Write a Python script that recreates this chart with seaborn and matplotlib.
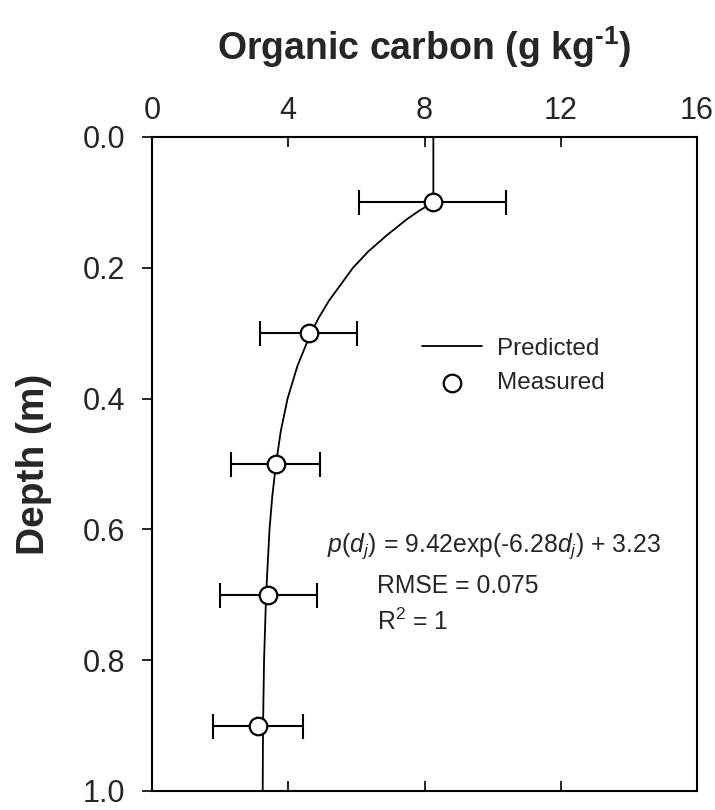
import matplotlib
matplotlib.use("Agg")
import matplotlib.pyplot as plt
import seaborn as sns
import numpy as np
import pandas as pd

# ---- data ----
pred_depth = [0.0, 0.1, 0.1125, 0.125, 0.15, 0.175, 0.2, 0.225, 0.25, 0.275, 0.3, 0.35,
              0.4, 0.45, 0.5, 0.55, 0.6, 0.65, 0.7, 0.75, 0.8, 0.9, 1.0]
pred_oc = [8.26, 8.26, 7.85, 7.50, 6.90, 6.35, 5.90, 5.55, 5.20, 4.91, 4.66, 4.27,
           3.98, 3.78, 3.64, 3.53, 3.45, 3.40, 3.35, 3.32, 3.29, 3.26, 3.25]

meas_depth = [0.1, 0.3, 0.5, 0.7, 0.9]
meas_oc = [8.24, 4.60, 3.63, 3.42, 3.11]
meas_err = [2.15, 1.42, 1.31, 1.42, 1.33]

x_ticks = [0, 4, 8, 12, 16]
y_ticks = [0.0, 0.2, 0.4, 0.6, 0.8, 1.0]
y_tick_labels = ["0.0", "0.2", "0.4", "0.6", "0.8", "1.0"]

sns.set_style("ticks")
plt.rcParams["font.family"] = ["Liberation Sans", "DejaVu Sans"]
plt.rcParams["mathtext.fontset"] = "custom"
plt.rcParams["mathtext.rm"] = "Liberation Sans"
plt.rcParams["mathtext.it"] = "Liberation Sans:italic"
plt.rcParams["mathtext.bf"] = "Liberation Sans:bold"

W, H = 715, 810
fig = plt.figure(figsize=(W / 100, H / 100), dpi=100)
L, R, T, B = 152, 697, 137, 791
ax = fig.add_axes([L / W, 1 - B / H, (R - L) / W, (B - T) / H])

pred_df = pd.DataFrame({"oc": pred_oc, "depth": pred_depth})
meas_df = pd.DataFrame({"oc": meas_oc, "depth": meas_depth, "err": meas_err})

sns.lineplot(data=pred_df, x="oc", y="depth", sort=False, estimator=None,
             color="black", linewidth=1.3, ax=ax, label="Predicted", zorder=2)
ax.errorbar(meas_df["oc"], meas_df["depth"], xerr=meas_df["err"], fmt="none",
            ecolor="black", elinewidth=1.5, capsize=9, capthick=1.5, zorder=3)
sns.scatterplot(data=meas_df, x="oc", y="depth", marker="o", s=160,
                facecolor="white", edgecolor="black", linewidth=1.6,
                ax=ax, label="Measured", zorder=4)

ax.set_xlim(0, 16)
ax.set_ylim(1.0, 0.0)
ax.set_xticks(x_ticks)
ax.set_xticklabels([str(v) for v in x_ticks])
ax.set_yticks(y_ticks)
ax.set_yticklabels(y_tick_labels)
ax.set_xlabel("")
ax.set_ylabel("")

ax.tick_params(axis="x", direction="in", top=True, bottom=True,
               labeltop=True, labelbottom=False, length=7, width=1.4,
               labelsize=22, pad=8)
ax.tick_params(axis="y", direction="out", left=True, right=False,
               length=7, width=1.4, labelsize=22, pad=12)
for sp in ax.spines.values():
    sp.set_visible(True)
    sp.set_linewidth(1.5)
    sp.set_color("black")

leg = ax.legend(loc="upper left", bbox_to_anchor=(0.495, 0.693), frameon=False,
                fontsize=17.5, handlelength=2.47, handletextpad=0.62,
                labelspacing=0.5, borderpad=0, borderaxespad=0)

ax.text(5.13, 0.625, r"$p$($d_j$) = 9.42exp(-6.28$d_j$) + 3.23", fontsize=17.8,
        ha="left", va="center")
ax.text(6.6, 0.687, "RMSE = 0.075", fontsize=17.8, ha="left", va="center")
ax.text(6.6, 0.742, r"R$^2$ = 1", fontsize=17.8, ha="left", va="center")

fig.text(424 / W, 1 - 47 / H, "Organic carbon (g kg$^{\\mathbf{\u2010}\\mathbf{1}}$)",
         fontsize=27, fontweight="bold", ha="center", va="center")
fig.text(34.5 / W, 1 - 464 / H, "Depth (m)", fontsize=28, fontweight="bold",
         rotation=90, ha="center", va="center")

fig.savefig("out.png", dpi=100)
